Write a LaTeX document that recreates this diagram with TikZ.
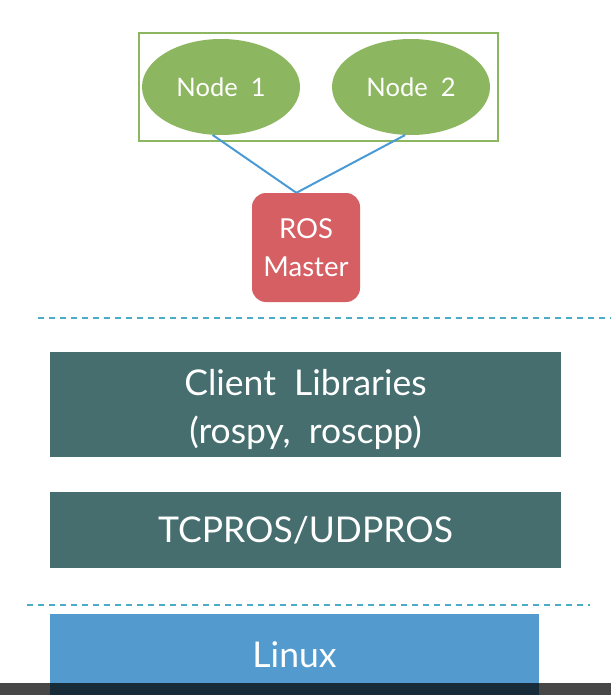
\documentclass[tikz,border=0pt]{standalone}
\usepackage{fontspec}
\setmainfont{Lato}
\usetikzlibrary{shapes,positioning}

\definecolor{nodegreen}{HTML}{8CB65F}
\definecolor{masterred}{HTML}{D65F63}
\definecolor{layerteal}{HTML}{466E6E}
\definecolor{linuxblue}{HTML}{539BCE}
\definecolor{linkblue}{HTML}{4A9BD5}
\definecolor{dashblue}{HTML}{4BACC6}

\tikzset{
  rosnode/.style={ellipse,fill=nodegreen,text=white,minimum width=158pt,minimum height=96pt,inner sep=0pt,font=\fontsize{25.5}{28}\selectfont},
  masterbox/.style={rectangle,rounded corners=14pt,fill=masterred,text=white,minimum width=108pt,minimum height=109pt,align=center,font=\fontsize{27.5}{38}\selectfont},
  layer/.style={rectangle,fill=layerteal,text=white,minimum width=511pt,align=center,inner sep=0pt,font=\fontsize{35.5}{48}\selectfont},
  link/.style={linkblue,line width=2pt},
  sep/.style={dashblue,line width=1.8pt,dash pattern=on 6pt off 5pt}
}

\begin{document}
\begin{tikzpicture}[x=1pt,y=-1pt]
\useasboundingbox (0,0) rectangle (611,695);

%nodes group
\draw[nodegreen,line width=2.5pt] (139,33) rectangle (498,141);
\node[rosnode] (node1) at (221,87) {Node\ \ 1};
\node[rosnode] (node2) at (411,87) {Node\ \ 2};

%ros master
\node[masterbox] (master) at (306,247.5) {ROS\\Master};
\draw[link] (node1.-100) -- (master.100);
\draw[link] (node2.-97) -- (master.100);

%separators
\draw[sep] (38,318) -- (611,318);
\draw[sep] (27,605) -- (590,605);

%layers
\node[layer,minimum height=105pt] (client) at (305.5,404.5) {};
\node[text=white,align=center,font=\fontsize{35.5}{48}\selectfont] (clienttext) at (305.5,409) {Client\ \ Libraries\\(rospy,\ \ roscpp)};
\node[layer,minimum height=76pt] (tcpros) at (305.5,530) {TCPROS/UDPROS};
\node[layer,fill=linuxblue,minimum width=489pt,minimum height=81pt] (linux) at (294.5,654.5) {Linux};

%player bar
\fill[black,opacity=0.72] (0,683) rectangle (611,695);
\end{tikzpicture}
\end{document}
